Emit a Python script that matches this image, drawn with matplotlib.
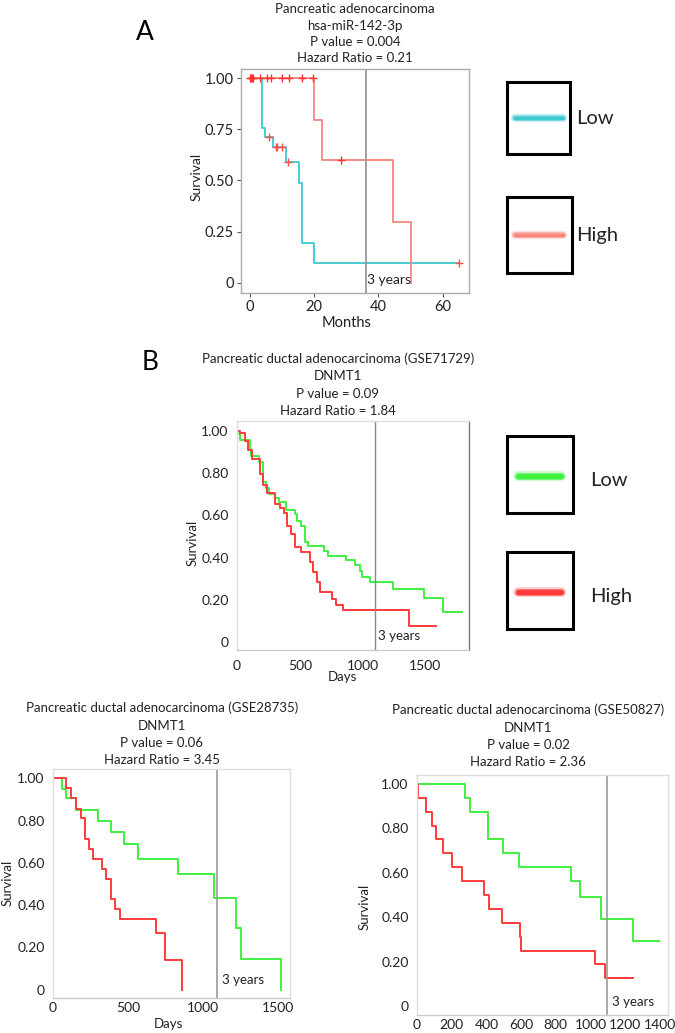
import matplotlib
matplotlib.use("Agg")
import matplotlib.pyplot as plt
from matplotlib.patches import Rectangle
from matplotlib.lines import Line2D

plt.rcParams['font.family'] = ['Lato', 'DejaVu Sans']

W, H = 675, 1033

# ---------------- Data ----------------
# Panel A: hsa-miR-142-3p (months)
a_low_t = [0, 3.6, 4.7, 7.3, 11.2, 15.4, 16.2, 20.0, 65.2]
a_low_s = [1.0, 0.756, 0.712, 0.663, 0.589, 0.488, 0.195, 0.098, 0.098]
a_low_cens_t = [6.0, 8.0, 8.4, 9.9, 11.7]
a_low_cens_s = [0.712, 0.663, 0.663, 0.663, 0.589]
a_low_end_t = [65.2]
a_low_end_s = [0.098]
a_high_t = [0, 20.0, 22.3, 44.4, 50.1]
a_high_s = [1.0, 0.797, 0.602, 0.296, 0.0]
a_high_cens_t = [0.0, 0.3, 0.7, 1.0, 3.1, 5.4, 6.4, 9.9, 12.2, 16.1, 19.5, 28.3]
a_high_cens_s = [1.0] * 11 + [0.602]

# Panel B: GSE71729 (days)
b_low_t = [0, 26, 106, 114, 175, 207, 228, 255, 300, 334, 387, 459, 478, 512, 539,
           565, 690, 725, 870, 937, 977, 998, 1062, 1242, 1489, 1640, 1794]
b_low_s = [0.985, 0.955, 0.915, 0.88, 0.85, 0.76, 0.73, 0.70, 0.68, 0.665, 0.625, 0.605,
           0.575, 0.55, 0.475, 0.455, 0.43, 0.41, 0.39, 0.365, 0.335, 0.31, 0.285, 0.254,
           0.211, 0.143, 0.143]
b_high_t = [0, 26, 61, 88, 122, 180, 207, 239, 300, 340, 372, 398, 433, 459, 512, 579,
            605, 637, 663, 759, 786, 844, 1369, 1582]
b_high_s = [1.0, 0.987, 0.951, 0.91, 0.866, 0.795, 0.743, 0.704, 0.652, 0.633, 0.609,
            0.551, 0.512, 0.452, 0.428, 0.381, 0.334, 0.287, 0.239, 0.203, 0.176, 0.153,
            0.077, 0.077]

# Panel C: GSE28735 (days)
c_low_t = [0, 60, 89, 151, 300, 389, 473, 567, 833, 1071, 1218, 1249, 1518, 1518]
c_low_s = [1.0, 0.95, 0.905, 0.85, 0.80, 0.745, 0.69, 0.62, 0.545, 0.435, 0.29, 0.145, 0.145, 0.0]
c_high_t = [0, 89, 118, 151, 184, 211, 240, 267, 327, 356, 389, 416, 444, 684, 744, 862, 862]
c_high_s = [1.0, 0.953, 0.905, 0.855, 0.81, 0.715, 0.665, 0.62, 0.57, 0.525, 0.43, 0.38,
            0.335, 0.27, 0.14, 0.14, 0.0]

# Panel D: GSE50827 (days)
d_low_t = [0, 278, 307, 407, 493, 589, 888, 940, 1061, 1243, 1396]
d_low_s = [1.0, 0.9375, 0.875, 0.75, 0.6875, 0.625, 0.5625, 0.49, 0.39, 0.295, 0.295]
d_high_t = [0, 4, 54, 86, 111, 148, 201, 259, 387, 412, 489, 595, 600, 1026, 1084, 1243]
d_high_s = [1.0, 0.9375, 0.875, 0.8125, 0.75, 0.6875, 0.625, 0.5625, 0.5, 0.4375, 0.375,
            0.3125, 0.25, 0.1875, 0.125, 0.125]

titles = {
    'A': ["Pancreatic adenocarcinoma", "hsa-miR-142-3p", "P value = 0.004", "Hazard Ratio = 0.21"],
    'B': ["Pancreatic ductal adenocarcinoma (GSE71729)", "DNMT1", "P value = 0.09", "Hazard Ratio = 1.84"],
    'C': ["Pancreatic ductal adenocarcinoma (GSE28735)", "DNMT1", "P value = 0.06", "Hazard Ratio = 3.45"],
    'D': ["Pancreatic ductal adenocarcinoma (GSE50827)", "DNMT1", "P value = 0.02", "Hazard Ratio = 2.36"],
}
three_years_months = 36
three_years_days = 1095

CYAN = '#3cc9d0'
SALMON = '#f7867d'
GREEN = '#3ff03f'
RED = '#ff3b3b'

fig = plt.figure(figsize=(W / 100, H / 100), dpi=100)


def add_ax(l, t, r, b):
    return fig.add_axes([l / W, 1 - b / H, (r - l) / W, (b - t) / H])


def ftext(x, y, s, **kw):
    fig.text(x / W, 1 - y / H, s, **kw)


def title_block(xc, y0, lines, dy=17.5, size=9.5):
    for i, line in enumerate(lines):
        ftext(xc, y0 + i * dy, line, ha='center', va='center', fontsize=size, color='#222222')


def style_B(ax, spine_colors):
    for k, c in spine_colors.items():
        ax.spines[k].set_color(c)
        ax.spines[k].set_linewidth(1.0)
    ax.tick_params(length=0, labelsize=10, colors='#222222')
    ax.tick_params(axis='x', pad=7)
    ax.tick_params(axis='y', pad=6)


# ---------------- Panel A ----------------
axA = add_ax(241, 69, 469, 293)
axA.step(a_low_t, a_low_s, where='post', color=CYAN, lw=1.3)
axA.step(a_high_t, a_high_s, where='post', color=SALMON, lw=1.3)
axA.plot(a_low_cens_t, a_low_cens_s, '+', color='#ff5050', ms=6, mew=1.0)
axA.plot(a_low_end_t, a_low_end_s, '+', color='#ff5050', ms=6, mew=1.0)
axA.plot(a_high_cens_t, a_high_cens_s, '+', color='#ff3030', ms=6, mew=1.0)
axA.axvline(three_years_months, color='#999999', lw=1.3)
axA.text(three_years_months + 0.4, 0.015, '3 years', fontsize=10, va='center', ha='left', color='#222222')
axA.set_xlim(-2.8, 68.2)
axA.set_ylim(-0.049, 1.044)
axA.set_xticks([0, 20, 40, 60])
axA.set_yticks([0, 0.25, 0.5, 0.75, 1.0])
axA.set_yticklabels(['0', '0.25', '0.50', '0.75', '1.00'])
for s in axA.spines.values():
    s.set_color('#aaaaaa')
    s.set_linewidth(1.0)
axA.tick_params(length=3, color='#555555', labelsize=10.5, colors='#222222', pad=2)
axA.tick_params(axis='both', color='#555555')
ftext(197, 177, 'Survival', rotation=90, ha='center', va='center', fontsize=10, color='#222222')
ftext(347, 323, 'Months', ha='center', va='center', fontsize=10.5, color='#222222')
title_block(355, 9, titles['A'], dy=16.5)
ftext(145, 32, 'A', ha='center', va='center', fontsize=19, color='black')

# Legend A
for (t, b, col, lab, x2) in [(82, 154, CYAN, 'Low', 570), (197, 273, SALMON, 'High', 572)]:
    fig.patches.append(Rectangle((507 / W, 1 - b / H), (x2 - 507) / W, (b - t) / H,
                                 transform=fig.transFigure, fill=False, ec='black', lw=2.2))
    yl = (t + b) / 2
    for lw_, al in [(6, 0.25), (4, 0.6), (2.5, 1.0)]:
        fig.lines.append(Line2D([515 / W, 563 / W], [1 - yl / H] * 2, transform=fig.transFigure,
                                color=col, lw=lw_, alpha=al, solid_capstyle='round'))
    ftext(576, yl, lab, ha='left', va='center', fontsize=14.5, color='#222222')

# ---------------- Panel B ----------------
axB = add_ax(237, 421, 469, 650)
axB.step(b_low_t, b_low_s, where='post', color=GREEN, lw=1.4)
axB.step(b_high_t, b_high_s, where='post', color=RED, lw=1.4)
axB.axvline(three_years_days, color='#888888', lw=1.0)
axB.text(three_years_days + 25, 0.03, '3 years', fontsize=9.5, va='center', ha='left', color='#222222')
axB.set_xlim(0, 1847)
axB.set_ylim(-0.036, 1.046)
axB.set_xticks([0, 500, 1000, 1500])
axB.set_yticks([0, 0.2, 0.4, 0.6, 0.8, 1.0])
axB.set_yticklabels(['0', '0.20', '0.40', '0.60', '0.80', '1.00'])
style_B(axB, {'top': '#dddddd', 'left': '#dddddd', 'bottom': '#cccccc', 'right': '#777777'})
ftext(193, 543, 'Survival', rotation=90, ha='center', va='center', fontsize=9.5, color='#222222')
ftext(342, 677, 'Days', ha='center', va='center', fontsize=9.5, color='#222222')
title_block(338, 359, titles['B'])
ftext(150, 362, 'B', ha='center', va='center', fontsize=19, color='black')

# Legend B
for (t, b, col, lab) in [(436, 513, GREEN, 'Low'), (552, 629, RED, 'High')]:
    fig.patches.append(Rectangle((507 / W, 1 - b / H), (573 - 507) / W, (b - t) / H,
                                 transform=fig.transFigure, fill=False, ec='black', lw=2.2))
    yl = (t + b) / 2 + 1
    for lw_, al in [(7, 0.25), (5, 0.6), (3.5, 1.0)]:
        fig.lines.append(Line2D([518 / W, 561 / W], [1 - yl / H] * 2, transform=fig.transFigure,
                                color=col, lw=lw_, alpha=al, solid_capstyle='round'))
    ftext(590, yl + 5, lab, ha='left', va='center', fontsize=14.5, color='#222222')

# ---------------- Panel C (bottom left) ----------------
axC = add_ax(53, 769, 290, 998)
axC.step(c_low_t, c_low_s, where='post', color=GREEN, lw=1.4)
axC.step(c_high_t, c_high_s, where='post', color=RED, lw=1.4)
axC.axvline(three_years_days, color='#999999', lw=1.2)
axC.text(three_years_days + 30, 0.045, '3 years', fontsize=9.5, va='center', ha='left', color='#222222')
axC.set_xlim(0, 1578)
axC.set_ylim(-0.04, 1.044)
axC.set_xticks([0, 500, 1000, 1500])
axC.set_yticks([0, 0.2, 0.4, 0.6, 0.8, 1.0])
axC.set_yticklabels(['0', '0.20', '0.40', '0.60', '0.80', '1.00'])
style_B(axC, {'top': '#dddddd', 'left': '#dddddd', 'bottom': '#cccccc', 'right': '#dddddd'})
axC.tick_params(axis='x', pad=3)
ftext(8, 883, 'Survival', rotation=90, ha='center', va='center', fontsize=9.5, color='#222222')
ftext(168, 1024, 'Days', ha='center', va='center', fontsize=9.5, color='#222222')
title_block(162, 708, titles['C'])

# ---------------- Panel D (bottom right) ----------------
axD = add_ax(417, 775, 668, 1015)
axD.step(d_low_t, d_low_s, where='post', color=GREEN, lw=1.4)
axD.step(d_high_t, d_high_s, where='post', color=RED, lw=1.4)
axD.axvline(three_years_days, color='#999999', lw=1.2)
axD.text(three_years_days + 30, 0.02, '3 years', fontsize=9.5, va='center', ha='left', color='#222222')
axD.set_xlim(0, 1446)
axD.set_ylim(-0.04, 1.04)
axD.set_xticks([0, 200, 400, 600, 800, 1000, 1200, 1400])
axD.set_yticks([0, 0.2, 0.4, 0.6, 0.8, 1.0])
axD.set_yticklabels(['0', '0.20', '0.40', '0.60', '0.80', '1.00'])
style_B(axD, {'top': '#dddddd', 'left': '#dddddd', 'bottom': '#cccccc', 'right': '#dddddd'})
axD.tick_params(axis='x', pad=3)
ftext(365, 907, 'Survival', rotation=90, ha='center', va='center', fontsize=9.5, color='#222222')
title_block(528, 710, titles['D'])

fig.savefig('out.png', dpi=100, facecolor='white')
